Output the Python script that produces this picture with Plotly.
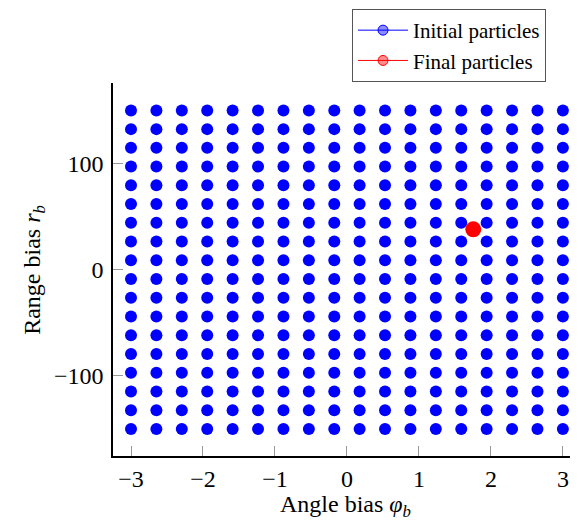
import plotly.graph_objects as go

# Grid of initial particles (angle bias, range bias)
phi_values = [-3.0, -2.647, -2.294, -1.941, -1.588, -1.235, -0.882, -0.529, -0.176,
              0.176, 0.529, 0.882, 1.235, 1.588, 1.941, 2.294, 2.647, 3.0]
r_values = [-150.0, -132.35, -114.71, -97.06, -79.41, -61.76, -44.12, -26.47, -8.82,
            8.82, 26.47, 44.12, 61.76, 79.41, 97.06, 114.71, 132.35, 150.0]

# Final particle
final_phi = [1.755]
final_r = [38.0]

x_ticks = [-3, -2, -1, 0, 1, 2, 3]
y_ticks = [-100, 0, 100]

init_x = [p for r in r_values for p in phi_values]
init_y = [r for r in r_values for p in phi_values]

FONT = "Liberation Serif"
BLUE = "#0000ff"
RED = "#ff0000"

# the page body has an 8px margin, so the figure is sized to fit the window
W, H = 570, 513


def fmt(v):
    return ("\u2212" + str(-v)) if v < 0 else str(v)


fig = go.Figure()
fig.add_trace(go.Scatter(
    x=init_x, y=init_y, mode="markers",
    marker=dict(color=BLUE, size=12, line=dict(width=0)),
    showlegend=False, hoverinfo="skip"))
fig.add_trace(go.Scatter(
    x=final_phi, y=final_r, mode="markers",
    marker=dict(color=RED, size=16, line=dict(width=0)),
    showlegend=False))
# legend entries
fig.add_trace(go.Scatter(
    x=[None], y=[None], mode="lines+markers", name="Initial particles",
    line=dict(color=BLUE, width=1),
    marker=dict(color="rgba(0,0,255,0.45)", size=10, line=dict(color=BLUE, width=1))))
fig.add_trace(go.Scatter(
    x=[None], y=[None], mode="lines+markers", name="Final particles",
    line=dict(color=RED, width=1),
    marker=dict(color="rgba(255,0,0,0.45)", size=10, line=dict(color=RED, width=1))))

fig.update_layout(
    width=W, height=H,
    margin=dict(l=105, r=0, t=75, b=65, autoexpand=False),
    paper_bgcolor="white", plot_bgcolor="white",
    font=dict(family=FONT, color="black", size=20),
    legend=dict(
        xref="container", yref="container",
        x=538 / W, y=1 - 1 / H, xanchor="right", yanchor="top",
        bgcolor="white", bordercolor="#555555", borderwidth=1,
        font=dict(family=FONT, size=21), tracegroupgap=0, itemwidth=50,
    ),
    xaxis=dict(
        range=[-3.25, 3.21], tickvals=x_ticks,
        ticktext=[fmt(v) for v in x_ticks],
        showgrid=False, zeroline=False, automargin=False,
        showline=True, linecolor="black", linewidth=1.5,
        ticks="inside", ticklen=10, tickcolor="#999999", tickwidth=1,
        tickfont=dict(family=FONT, size=24),
    ),
    yaxis=dict(
        range=[-175.5, 175.8], tickvals=y_ticks,
        ticktext=[fmt(v) for v in y_ticks],
        showgrid=False, zeroline=False, automargin=False,
        showline=True, linecolor="black", linewidth=1.5,
        ticks="inside", ticklen=10, tickcolor="#999999", tickwidth=1,
        tickfont=dict(family=FONT, size=24), ticklabelstandoff=3,
    ),
    annotations=[
        dict(text="Angle bias <i>\u03c6</i><sub><i>b</i></sub>",
             xref="paper", yref="paper", x=0.499, y=-0.134,
             xanchor="center", yanchor="middle", showarrow=False,
             font=dict(family=FONT, size=24)),
        dict(text="Range bias <i>r</i><sub><i>b</i></sub>",
             xref="paper", yref="paper", x=-0.17, y=0.499,
             xanchor="center", yanchor="middle", showarrow=False,
             textangle=-90, font=dict(family=FONT, size=24)),
    ],
)

fig.write_html("out.html")
